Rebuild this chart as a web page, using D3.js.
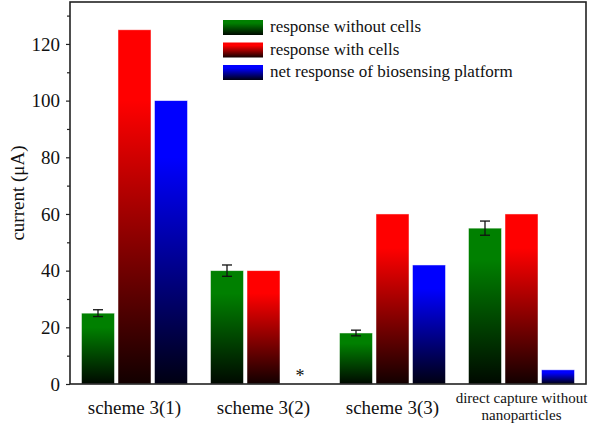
<!DOCTYPE html>
<html><head><meta charset="utf-8">
<script src="https://cdn.jsdelivr.net/npm/d3@7"></script>
<style>body{margin:0;background:#fff}svg{display:block}text{font-family:"Liberation Serif","Times New Roman",serif;fill:#111}</style>
</head><body><svg id="c" width="601" height="424"></svg>
<script>
const categories = ["scheme 3(1)", "scheme 3(2)", "scheme 3(3)", "direct capture without|nanoparticles"];
const seriesNames = ["response without cells", "response with cells", "net response of biosensing platform"];
const seriesColors = ["#008000", "#ff0000", "#0000ff"];
const withoutCells = [25, 40, 18, 55];
const withoutCellsErr = [1.2, 2, 1, 2.5];
const withCells = [125, 40, 60, 60];
const netResponse = [100, null, 42, 5];
const yTicks = [0, 20, 40, 60, 80, 100, 120];
const yMinorTicks = [10, 30, 50, 70, 90, 110, 130];

const svg = d3.select("#c");
const L = 70, R = 586, T = 2, B = 384;
const x = d3.scaleBand().domain(categories).range([L, R]).padding(0);
const y = d3.scaleLinear().domain([0, 134.8]).range([B, T]);
const bw = 33, gap = 3.5;

const defs = svg.append("defs");
seriesColors.forEach((c, i) => {
  const g = defs.append("linearGradient").attr("id", "g" + i).attr("x1", 0).attr("y1", 0).attr("x2", 0).attr("y2", 1);
  g.append("stop").attr("offset", 0).attr("stop-color", c);
  g.append("stop").attr("offset", 0.2).attr("stop-color", c);
  g.append("stop").attr("offset", 1).attr("stop-color", d3.interpolateRgb(c, "#000")(0.93));
});

const series = [withoutCells, withCells, netResponse];
series.forEach((vals, si) => {
  categories.forEach((cat, ci) => {
    const v = vals[ci];
    if (v == null) return;
    const cx = x(cat) + x.bandwidth() / 2 + (si - 1) * (bw + gap);
    svg.append("rect").attr("x", cx - bw / 2).attr("y", y(v)).attr("width", bw).attr("height", y(0) - y(v))
      .attr("fill", `url(#g${si})`).attr("stroke", "#fff").attr("stroke-opacity", 0.6).attr("stroke-width", 0.8);
  });
});

// error bars
categories.forEach((cat, ci) => {
  const cx = x(cat) + x.bandwidth() / 2 - (bw + gap);
  const v = withoutCells[ci], e = withoutCellsErr[ci];
  const g = svg.append("g").attr("stroke", "#111").attr("stroke-width", 1.3);
  g.append("line").attr("x1", cx).attr("x2", cx).attr("y1", y(v + e)).attr("y2", y(v - e));
  [v + e, v - e].forEach(t => g.append("line").attr("x1", cx - 5).attr("x2", cx + 5).attr("y1", y(t)).attr("y2", y(t)));
});

// asterisk for missing net response
categories.forEach((cat, ci) => {
  if (netResponse[ci] != null) return;
  const cx = x(cat) + x.bandwidth() / 2 + (bw + gap);
  svg.append("text").attr("x", cx).attr("y", y(0) - 2).attr("text-anchor", "middle").attr("font-size", 18).text("*");
});

// frame
svg.append("rect").attr("x", L).attr("y", T).attr("width", R - L).attr("height", B - T)
  .attr("fill", "none").attr("stroke", "#222").attr("stroke-width", 1.6);

// y axis
const yAxis = svg.append("g").attr("transform", `translate(${L},0)`)
  .call(d3.axisLeft(y).tickValues(yTicks).tickSize(4).tickPadding(6));
yAxis.select(".domain").remove();
yAxis.selectAll("text").attr("font-size", 19).attr("font-family", "Liberation Serif").attr("fill", "#111");
yAxis.selectAll("line").attr("stroke", "#222").attr("stroke-width", 1.2);
const yMinor = svg.append("g").attr("transform", `translate(${L},0)`)
  .call(d3.axisLeft(y).tickValues(yMinorTicks).tickSize(3).tickFormat(""));
yMinor.select(".domain").remove();
yMinor.selectAll("line").attr("stroke", "#222").attr("stroke-width", 1.2);

svg.append("text").attr("transform", `translate(24,${(T + B) / 2}) rotate(-90)`).attr("text-anchor", "middle")
  .attr("font-size", 19).text("current (μA)");

// x labels
categories.forEach(cat => {
  const cx = x(cat) + x.bandwidth() / 2;
  const parts = cat.split("|");
  if (parts.length === 1) {
    svg.append("text").attr("x", cx).attr("y", 414).attr("text-anchor", "middle").attr("font-size", 19).text(parts[0]);
  } else {
    parts.forEach((p, i) => svg.append("text").attr("x", cx).attr("y", 403 + i * 17).attr("text-anchor", "middle").attr("font-size", 15).text(p));
  }
});

// legend
seriesNames.forEach((n, i) => {
  const ly = 20 + i * 22.5;
  svg.append("rect").attr("x", 223).attr("y", ly).attr("width", 40).attr("height", 15).attr("fill", `url(#g${i})`);
  svg.append("text").attr("x", 270).attr("y", ly + 12).attr("font-size", 17).text(n);
});
</script></body></html>
